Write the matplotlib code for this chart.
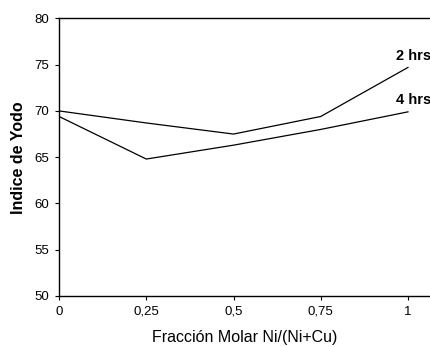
import matplotlib
matplotlib.use("Agg")
import matplotlib.pyplot as plt

# data
fraccion = [0, 0.25, 0.5, 0.75, 1]
iy_2hrs = [70.0, 68.7, 67.5, 69.4, 74.7]
iy_4hrs = [69.4, 64.8, 66.3, 68.0, 69.9]
x_ticks = [0, 0.25, 0.5, 0.75, 1]
x_tick_labels = ['0', '0,25', '0,5', '0,75', '1']
y_ticks = [50, 55, 60, 65, 70, 75, 80]

plt.rcParams['font.family'] = ['Liberation Sans', 'DejaVu Sans']

fig = plt.figure(figsize=(4.31, 3.47), dpi=100, facecolor='white')
ax = fig.add_axes([0.137, 0.147, 0.863, 0.800])

ax.plot(fraccion, iy_2hrs, color='black', linewidth=0.9)
ax.plot(fraccion, iy_4hrs, color='black', linewidth=0.9)

# series labels at the right end
ax.text(1.066, 75.9, '2 hrs', ha='right', va='center', fontsize=10.5,
        fontweight='bold')
ax.text(1.066, 71.2, '4 hrs', ha='right', va='center', fontsize=10.5,
        fontweight='bold')

ax.set_xlim(0, 1.066)
ax.set_ylim(50, 80)
ax.set_xticks(x_ticks)
ax.set_xticklabels(x_tick_labels)
ax.set_yticks(y_ticks)
ax.tick_params(axis='both', labelsize=9.5, length=3, width=0.8, pad=4)

ax.spines['right'].set_visible(False)
for s in ['left', 'top', 'bottom']:
    ax.spines[s].set_linewidth(1.0)

ax.set_xlabel('Fracción Molar Ni/(Ni+Cu)', fontsize=11.5, labelpad=9)
ax.set_ylabel('Indice de Yodo', fontsize=11.5, fontweight='bold', labelpad=6)

fig.savefig('out.png', dpi=100, facecolor='white')
